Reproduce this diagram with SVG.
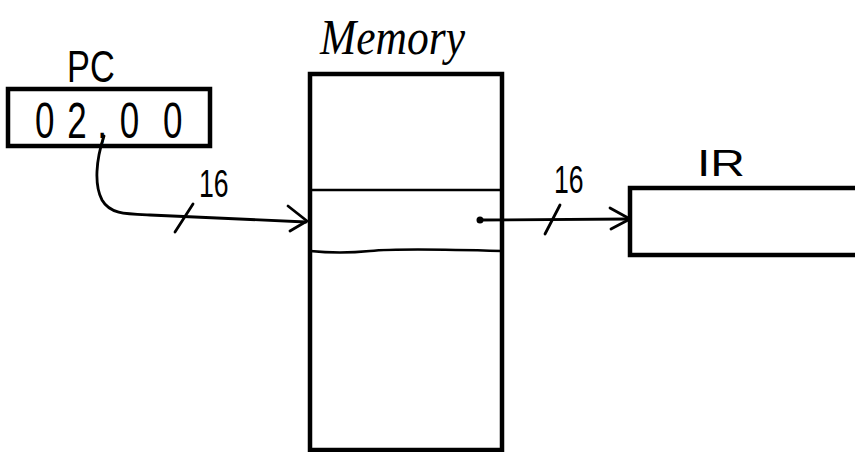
<svg xmlns="http://www.w3.org/2000/svg" width="855" height="452" viewBox="0 0 855 452">
  <style>
    .box { fill: none; stroke: #000; stroke-width: 4.5; stroke-linejoin: miter; }
    .row { fill: none; stroke: #000; stroke-width: 2.6; }
    .wire { fill: none; stroke: #000; stroke-width: 2.8; stroke-linecap: round; stroke-linejoin: round; }
    .lbl { font-family: "Liberation Sans", "DejaVu Sans", sans-serif; fill: #000; }
    .hand { font-family: "Liberation Serif", "DejaVu Serif", serif; font-style: italic; fill: #000; }
  </style>
  <rect width="855" height="452" fill="#fff"/>

  <!-- program counter -->
  <g id="pc">
    <text class="lbl" transform="translate(67 82) scale(0.78 1)" font-size="44">PC</text>
    <rect class="box" x="8" y="89" width="202" height="57"/>
    <text class="lbl" transform="translate(0 138) scale(0.7 1)" font-size="50" x="50 96 139 171 233">02,00</text>
  </g>

  <!-- memory -->
  <g id="memory">
    <text class="hand" x="320" y="54" font-size="50" textLength="145" lengthAdjust="spacingAndGlyphs">Memory</text>
    <rect class="box" x="310" y="74" width="192" height="376"/>
    <path class="row" d="M310 190 L502 190"/>
    <path class="row" d="M310 251 Q340 254 370 251 T502 251"/>
  </g>

  <!-- instruction register -->
  <g id="ir">
    <text class="lbl" x="697" y="176" font-size="36" textLength="48" lengthAdjust="spacingAndGlyphs">IR</text>
    <rect class="box" x="630" y="188" width="240" height="67"/>
  </g>

  <!-- buses -->
  <g id="connectors">
    <path class="wire" d="M104 136 C96 160 94 185 102 200 C110 214 125 214 150 215 L306 222"/>
    <path class="wire" d="M288 206 L307 221 L290 231"/>
    <path class="wire" d="M175 232 L193 204"/>
    <text class="lbl" transform="translate(199 197) scale(0.7 1)" font-size="38">16</text>

    <circle cx="480" cy="220" r="3.5" fill="#000"/>
    <path class="wire" d="M480 220 L630 219"/>
    <path class="wire" d="M610 208 L630 219 L611 229"/>
    <path class="wire" d="M545 234 L560 205"/>
    <text class="lbl" transform="translate(554 193) scale(0.7 1)" font-size="38">16</text>
  </g>
</svg>
